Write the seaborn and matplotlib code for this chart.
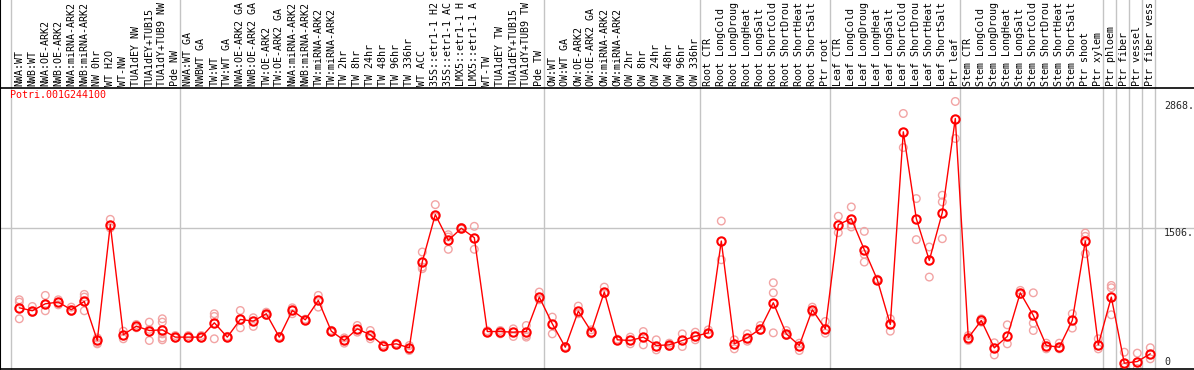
import numpy as np
import pandas as pd
import seaborn as sns
import matplotlib.pyplot as plt
from matplotlib import transforms

sns.set_style("white")
plt.rcParams['font.family'] = ['DejaVu Sans Mono']

gene = "Potri.001G244100"

labels = [
    "NWA:WT", "NWB:WT", "NWA:OE-ARK2", "NWB:OE-ARK2", "NWA:miRNA-ARK2", "NWB:miRNA-ARK2",
    "NW 0hr", "WT H2O", "WT-NW", "TUA1dEY NW", "TUA1dEY+TUB15", "TUA1dY+TUB9 NW", "Pde NW",
    "NWA:WT GA", "NWBWT GA", "TW:WT", "TW:WT GA", "NWA:OE-ARK2 GA", "NWB:OE-ARK2 GA",
    "TW:OE-ARK2", "TW:OE-ARK2 GA", "NWA:miRNA-ARK2", "NWB:miRNA-ARK2", "TW:miRNA-ARK2",
    "TW:miRNA-ARK2", "TW 2hr", "TW 8hr", "TW 24hr", "TW 48hr", "TW 96hr", "TW 336hr",
    "WT ACC", "35S::etr1-1 H2", "35S::etr1-1 AC", "LMX5::etr1-1 H", "LMX5::etr1-1 A",
    "WT-TW", "TUA1dEY TW", "TUA1dEY+TUB15", "TUA1dY+TUB9 TW", "Pde TW",
    "OW:WT", "OW:WT GA", "OW:OE-ARK2", "OW:OE-ARK2 GA", "OW:miRNA-ARK2", "OW:miRNA-ARK2",
    "OW 2hr", "OW 8hr", "OW 24hr", "OW 48hr", "OW 96hr", "OW 336hr",
    "Root CTR", "Root LongCold", "Root LongDroug", "Root LongHeat", "Root LongSalt",
    "Root ShortCold", "Root ShortDrou", "Root ShortHeat", "Root ShortSalt", "Ptr root",
    "Leaf CTR", "Leaf LongCold", "Leaf LongDroug", "Leaf LongHeat", "Leaf LongSalt",
    "Leaf ShortCold", "Leaf ShortDrou", "Leaf ShortHeat", "Leaf ShortSalt", "Ptr leaf",
    "Stem CTR", "Stem LongCold", "Stem LongDroug", "Stem LongHeat", "Stem LongSalt",
    "Stem ShortCold", "Stem ShortDrou", "Stem ShortHeat", "Stem ShortSalt", "Ptr shoot",
    "Ptr xylem", "Ptr phloem", "Ptr fiber", "Ptr vessel", "Ptr fiber vess",
]

# first sample of every group (grey separators)
group_starts = [0, 13, 41, 53, 63, 73, 84, 85, 86, 87]

means = [
    652, 620, 695, 713, 631, 720, 301, 1545, 362, 455, 408, 415, 337,
    337, 337, 491, 337, 527, 509, 588, 337, 623, 523, 731, 401, 301, 426, 362, 247, 265,
    222, 1147, 1653, 1376, 1506, 1405, 397, 397, 390, 397, 767,
    480, 229, 616, 397, 821, 308, 301, 337, 247, 254, 301, 347,
    383, 1369, 265, 329, 426, 706, 372, 247, 631, 426,
    1545, 1610, 1276, 953, 473, 2542, 1610, 1161, 1674, 2685,
    329, 516, 222, 344, 813, 570, 247, 229, 516, 1369, 254,
    767, 57, 75, 158,
]

reps = [
    [738, 713, 534], [666, 602], [785, 620, 690], [738, 684], [659, 613], [796, 767, 620],
    [329, 272, 265], [1602, 1509], [401, 319], [473, 437], [498, 420, 301],
    [534, 498, 372, 329, 308], [354, 329],
    [354, 329], [354, 329], [588, 559, 319], [345, 330], [623, 437], [545, 452],
    [605, 570], [345, 330], [652, 588], [530, 515], [785, 659], [410, 390], [272, 329],
    [462, 390], [408, 319], [255, 240], [272, 258],
    [193, 247], [1251, 1090, 1072], [1760, 1628], [1437, 1412, 1280], [1515, 1497],
    [1527, 1280], [405, 390], [408, 372], [426, 344], [462, 354, 337], [821, 738],
    [552, 372], [235, 222], [670, 588], [415, 372], [874, 803], [315, 300], [337, 265],
    [397, 254], [308, 200], [236, 272], [372, 236], [390, 308],
    [415, 372], [1584, 1168], [308, 211], [372, 293], [462, 408], [921, 813, 383],
    [408, 354], [193, 272], [659, 605], [505, 379],
    [1635, 1459], [1735, 1545, 1520], [1473, 1226, 1143], [960, 945], [534, 401],
    [2739, 2373], [1825, 1384], [1305, 982], [1861, 1789, 1394], [2868, 2470],
    [301, 354], [498, 534], [276, 146], [469, 265], [839, 796], [813, 487, 408],
    [211, 272], [272, 211], [588, 434], [1455, 1419, 1233], [319, 211],
    [892, 867, 577], [175, 14], [165, 0], [223, 104],
]

y_ticks = [2868, 1506, 0]

idx = np.arange(len(labels))
rep_df = pd.DataFrame(
    [(i, v) for i, vals in enumerate(reps) for v in vals], columns=["sample", "value"]
)
mean_df = pd.DataFrame({"sample": idx, "value": means})

W, H = 1194, 370
fig = plt.figure(figsize=(W / 100, H / 100), dpi=100)
top_px, bot_px = 87.5, 368.5
ax = fig.add_axes([0, (H - bot_px) / H, 1, (bot_px - top_px) / H])

step = 13.0
x0 = 19.3
ax.set_xlim(-x0 / step, (W - x0) / step)
ax.set_ylim(0, 3018)

# replicates
sns.scatterplot(data=rep_df, x="sample", y="value", ax=ax, marker="o", s=30,
                facecolor="none", edgecolor="#f2a4a4", linewidth=1.0, zorder=2, legend=False)
# means
sns.lineplot(data=mean_df, x="sample", y="value", ax=ax, color="red", lw=1,
             marker="o", markersize=6, markerfacecolor="none", markeredgecolor="red",
             markeredgewidth=1.5, zorder=3)

ax_h = bot_px - top_px
ytop = 1 + top_px / ax_h + 0.01

# grey separators
for s in group_starts + [len(labels)]:
    ax.plot([s - 0.615, s - 0.615], [0, ytop], color="#c4c4c4", lw=1,
            transform=transforms.blended_transform_factory(ax.transData, ax.transAxes),
            clip_on=False, zorder=1)

# mid grid line
ax.axhline(y_ticks[1], color="#c4c4c4", lw=1, zorder=1)

# sample labels above the plot
trans = transforms.blended_transform_factory(ax.transData, ax.transAxes)
for i, lab in enumerate(labels):
    ax.text(i, 1 + 1.5 / ax_h, lab, rotation=90, ha="center", va="bottom",
            fontsize=7.2, color="black", transform=trans, clip_on=False)

# y labels on the right
ytrans = transforms.blended_transform_factory(ax.transAxes, ax.transData)
for v in y_ticks:
    ax.text(1164 / W, v if v > 0 else 20, f"{v}." if v > 0 else "0",
            ha="left", va="top" if v > 0 else "bottom",
            fontsize=7.2, transform=ytrans, zorder=4)

ax.text(10 / W, 1 - 3 / ax_h, gene, color="red", fontsize=7.2, ha="left", va="top",
        transform=ax.transAxes)

# frame
ax.spines["right"].set_visible(False)
for side in ["left", "bottom", "top"]:
    ax.spines[side].set_color("black")
    ax.spines[side].set_linewidth(1.2)
ax.plot([0, 0], [0, ytop], color="black", lw=1.5, transform=ax.transAxes, clip_on=False)

ax.set_xticks([])
ax.set_yticks([])
ax.set_xlabel("")
ax.set_ylabel("")

fig.savefig("out.png", dpi=100)
